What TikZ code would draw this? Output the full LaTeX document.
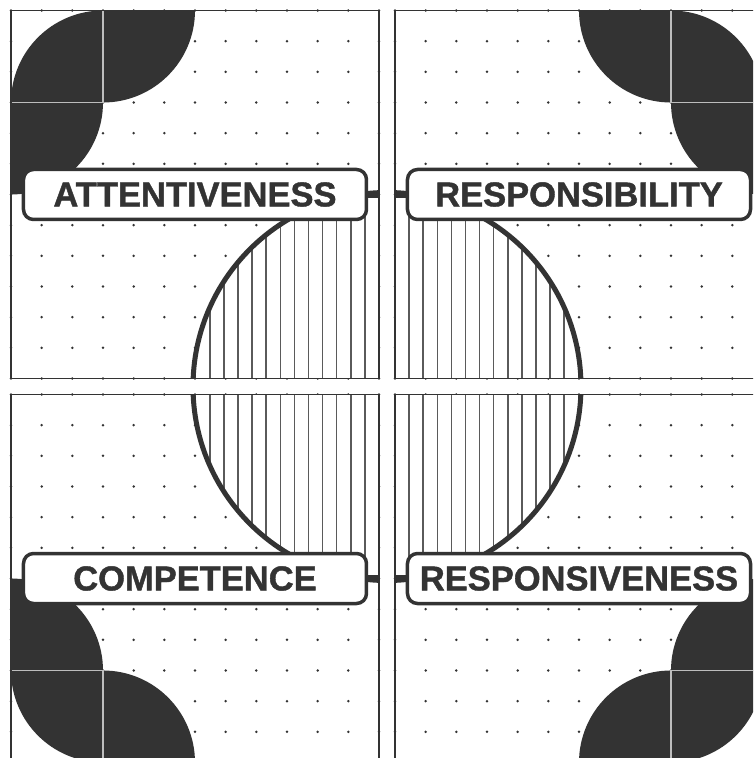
\documentclass[tikz,border=0pt]{standalone}
\usepackage{fontspec}
\setmainfont{Liberation Sans}[BoldFeatures={FakeBold=1.2}]
\usetikzlibrary{positioning}
\definecolor{ink}{HTML}{333333}
\definecolor{seam}{HTML}{BDBDBD}
\definecolor{hatch}{HTML}{5A5A5A}
\tikzset{
  panel/.style={draw=ink, line width=1.5pt},
  dot/.style={fill=ink},
  leaf/.style={fill=ink},
  seamline/.style={draw=seam, line width=1.6pt},
  hatchline/.style={draw=hatch, line width=1.5pt},
  ring/.style={draw=ink, line width=5pt},
  tag/.style={
    rectangle,
    rounded corners=10pt,
    draw=ink,
    fill=white,
    line width=3.5pt,
    minimum width=343pt,
    minimum height=50pt,
    inner sep=0pt,
    text=ink,
    font=\fontsize{34.5}{40}\selectfont\bfseries
  },
  link/.style={draw=ink, line width=7pt}
}
% one quarter, drawn for the top left; the others are mirrored
\newcommand{\quadrantart}{%
  \fill[white] (-376,8) rectangle (-8,376);
  \foreach \i in {0,...,12}
    \foreach \j in {0,...,12}
      \fill[dot] (-376+\i*30.667, 376-\j*30.667) circle (1.4pt);
  \begin{scope}
    \clip (-376,8) rectangle (-8,376);
    \fill[white] (0,0) circle (194);
    \begin{scope}
      \clip (0,0) circle (194);
      \foreach \k in {1,...,13}
        \draw[hatchline] (-8-\k*14.1,0) -- (-8-\k*14.1,380);
    \end{scope}
    \draw[ring] (0,0) circle (194);
  \end{scope}
  \fill[leaf] (-284,284) -- (-376,284) arc[start angle=180, end angle=90, radius=92] -- cycle;
  \fill[leaf] (-284,376) -- (-192,376) arc[start angle=0, end angle=-90, radius=92] -- cycle;
  \fill[leaf] (-376,284) -- (-284,284) arc[start angle=0, end angle=-90, radius=92] -- cycle;
  \draw[seamline] (-284,376) -- (-284,284) -- (-376,284);
  \draw[panel] (-376,8) rectangle (-8,376);
}

\begin{document}
\begin{tikzpicture}[x=1pt, y=1pt]
  \useasboundingbox (-387,-371.5) rectangle (366,386.5);
  \clip (-387,-371.5) rectangle (366,386.5);
  \fill[white] (-387,-371.5) rectangle (366,386.5);

  \begin{scope} \quadrantart \end{scope}
  \begin{scope}[xscale=-1] \quadrantart \end{scope}
  \begin{scope}[yscale=-1] \quadrantart \end{scope}
  \begin{scope}[xscale=-1, yscale=-1] \quadrantart \end{scope}

  \node[tag] (attn) at (-192,192) {ATTENTIVENESS};
  \node[tag] (resp) at (192,192) {RESPONSIBILITY};
  \node[tag] (comp) at (-192,-192) {COMPETENCE};
  \node[tag] (rspv) at (192,-192) {RESPONSIVENESS};

  \coordinate (attnEdge) at (-8,192);
  \coordinate (respEdge) at (8,192);
  \coordinate (compEdge) at (-8,-192);
  \coordinate (rspvEdge) at (8,-192);

  \draw[link] (attn.east) -- (attnEdge);
  \draw[link] (resp.west) -- (respEdge);
  \draw[link] (comp.east) -- (compEdge);
  \draw[link] (rspv.west) -- (rspvEdge);
\end{tikzpicture}
\end{document}
